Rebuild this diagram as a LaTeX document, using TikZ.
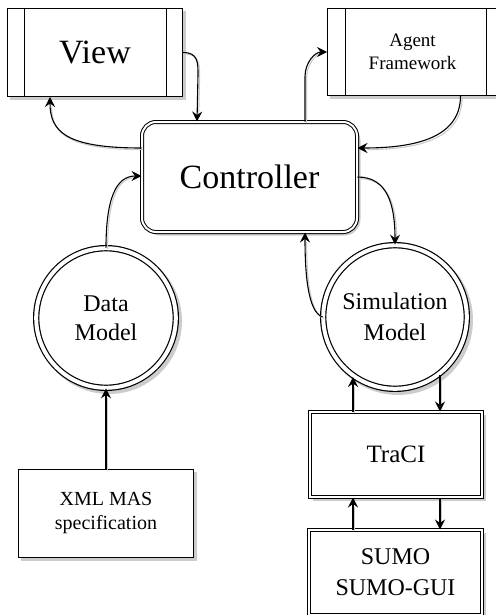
\documentclass[tikz,border=0pt]{standalone}
\usepackage{fontspec}
\setmainfont{Liberation Serif}
\usetikzlibrary{arrows.meta,calc,backgrounds}
\newcommand\fs[2]{\fontsize{#1}{#2}\selectfont}
\newcommand\lnk[1]{\draw[lnkshade] #1; \draw[lnk] #1;}
\definecolor{shgray}{RGB}{204,204,204}
\begin{document}
\begin{tikzpicture}[x=1pt,y=-1pt,
  box/.style={draw, line width=1pt, fill=white, inner sep=0pt, align=center},
  dbox/.style={box, double, double distance=2pt, line width=1pt},
  dcirc/.style={circle, draw, double, double distance=4pt, line width=1.2pt, fill=white, inner sep=0pt, align=center},
  shadowc/.style={fill=shgray, draw=none},
  lnk/.style={draw=black, line width=1.1pt, -{Stealth[length=10pt,width=10pt,inset=3.5pt]}},
  lnkshade/.style={draw=shgray, line width=1.1pt, shorten >=8pt, transform canvas={xshift=1.6pt,yshift=-1.6pt}}
]
\path[use as bounding box] (0,0) rectangle (495,615);

% nodes
\node[box, minimum width=175pt, minimum height=88pt, font=\fs{34}{40}] (v) at (95,52.5) {View};
\draw[line width=1pt] ([xshift=17pt]v.north west) -- ([xshift=17pt]v.south west);
\draw[line width=1pt] ([xshift=-17pt]v.north east) -- ([xshift=-17pt]v.south east);

\node[box, minimum width=176pt, minimum height=87pt, font=\fs{19}{23}] (af) at (415.5,52) {\hspace*{-6pt}Agent\\\hspace*{-6pt}Framework};
\draw[line width=1pt] ([xshift=18pt]af.north west) -- ([xshift=18pt]af.south west);
\draw[line width=1pt] ([xshift=-18pt]af.north east) -- ([xshift=-18pt]af.south east);

\node[dbox, rounded corners=14pt, minimum width=215pt, minimum height=110pt, font=\fs{34}{40}] (c) at (249.5,177) {Controller};

\node[dcirc, minimum size=139.6pt, font=\fs{24}{29}] (dm) at (106,318) {Data\\Model};
\node[dcirc, minimum size=143.6pt, font=\fs{24}{31}] (sm) at (395,317) {Simulation\\Model};

\node[box, minimum width=175pt, minimum height=88pt, font=\fs{20}{24}] (xml) at (106,513.5) {XML MAS\\specification};

\node[dbox, minimum width=172pt, minimum height=85pt, font=\fs{25}{30}] (tr) at (396,454.5) {TraCI};
\node[dbox, minimum width=173pt, minimum height=85pt, font=\fs{24}{31}] (su) at (395.5,572.5) {SUMO\\SUMO-GUI};

% node shadows
\begin{scope}[on background layer]
\fill[shadowc] ([shift={(3,3)}]v.north west) rectangle ([shift={(3,3)}]v.south east);
\fill[shadowc] ([shift={(3,3)}]af.north west) rectangle ([shift={(3,3)}]af.south east);
\fill[shadowc, rounded corners=16pt] ([shift={(3,3)}]c.north west) rectangle ([shift={(3,3)}]c.south east);
\fill[shadowc] ([shift={(3,3)}]dm.center) circle (73);
\fill[shadowc] ([shift={(3,3)}]sm.center) circle (75);
\fill[shadowc] ([shift={(3,3)}]xml.north west) rectangle ([shift={(3,3)}]xml.south east);
\fill[shadowc] ([shift={(3,3)}]tr.north west) rectangle ([shift={(3,3)}]tr.south east);
\fill[shadowc] ([shift={(3,3)}]su.north west) rectangle ([shift={(3,3)}]su.south east);
\end{scope}

% connectors
\lnk{(v.east) .. controls +(15,0) and +(0,-12) .. ++(15,22) -- ($(c.north)+(-52.5,0)$)}
\lnk{($(c.west)+(0,-29)$) .. controls +(-75,0) and +(0,35) .. ($(v.south)+(-45,0)$)}
\lnk{(dm.north) .. controls +(0,-50) and +(-25,0) .. ($(c.west)+(0,-1)$)}
\lnk{($(c.north)+(55.5,0)$) -- ++(0,-45) .. controls +(0,-14) and +(-12,0) .. (af.west)}
\lnk{($(af.south)+(45,0)$) .. controls +(0,45) and +(50,0) .. ($(c.east)+(0,-29)$)}
\lnk{(c.east) .. controls +(30,0) and +(0,-40) .. (sm.north)}
\lnk{(sm.west) .. controls +(-15,-5) and +(0,40) .. ($(c.south)+(55.5,0)$)}

\coordinate (a1) at ($(tr.north)+(-43,0)$);
\coordinate (a2) at ($(tr.north)+(44,0)$);
\coordinate (a3) at ($(su.north)+(-42.5,0)$);
\coordinate (a4) at ($(su.north)+(44.5,0)$);
\lnk{(a1) -- (a1 |- sm.236)}
\lnk{(a2 |- sm.-53) -- (a2)}
\lnk{(a3) -- (a3 |- tr.south)}
\lnk{(a4 |- tr.south) -- (a4)}
\lnk{(xml.north) -- (dm.south)}
\end{tikzpicture}
\end{document}
